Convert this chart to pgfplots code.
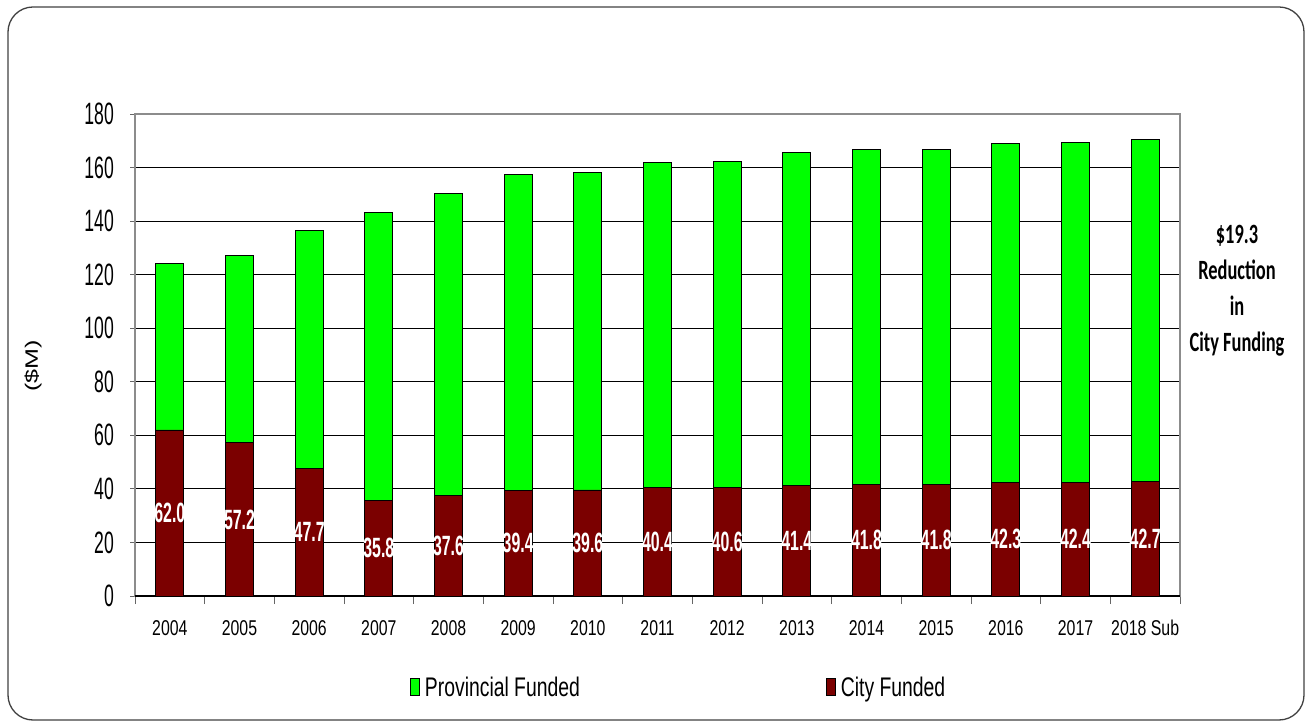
\documentclass[border=0pt]{standalone}
\usepackage{pgfplots}
\pgfplotsset{compat=1.18}
\usepackage{pgfplotstable}
\usepackage{fontspec}
\setmainfont{Liberation Sans}
\newfontfamily\yfont{Liberation Sans}[FakeStretch=0.57]
\newfontfamily\xfont{Liberation Sans}[FakeStretch=0.74]
\newfontfamily\lblfont{Liberation Sans}[FakeStretch=0.57]
\newfontfamily\legfont{Liberation Sans}[FakeStretch=0.72]
\newfontfamily\notefont{Carlito}[FakeStretch=0.66]
\newfontfamily\ylabfont{Liberation Sans}[FakeStretch=1.4]
\definecolor{provgreen}{HTML}{00FF00}
\definecolor{cityred}{HTML}{7B0000}

\pgfplotstableread{
x lbl city prov
0 2004 62.0 62.0
1 2005 57.2 70.1
2 2006 47.7 88.7
3 2007 35.8 107.3
4 2008 37.6 112.6
5 2009 39.4 118.1
6 2010 39.6 118.4
7 2011 40.4 121.4
8 2012 40.6 121.7
9 2013 41.4 124.3
10 2014 41.8 124.9
11 2015 41.8 124.9
12 2016 42.3 126.7
13 2017 42.4 127.1
14 2018 42.7 127.7
}\data

\begin{document}
\begin{tikzpicture}[x=1bp,y=1bp]
\useasboundingbox (0,0) rectangle (1307,723);
\draw[black!75, line width=1.3bp, rounded corners=25bp] (8,3) rectangle (1304,716);
\begin{axis}[
  at={(135bp,127bp)}, anchor=south west,
  scale only axis, width=1045bp, height=482bp,
  xmin=-0.5, xmax=14.5, ymin=0, ymax=180,
  xtick={0,...,14},
  xticklabels={2004,2005,2006,2007,2008,2009,2010,2011,2012,2013,2014,2015,2016,2017,2018 Sub},
  minor xtick={-0.5,0.5,...,14.5},
  major x tick style={draw=none},
  minor x tick style={black!60, line width=0.9bp},
  minor tick length=8bp,
  ytick={0,20,...,180},
  major tick length=5bp,
  ytick style={black!60, line width=0.9bp},
  tick align=outside,
  xtick pos=bottom, ytick pos=left,
  ymajorgrids=true,
  grid style={black, line width=0.9bp},
  axis line style={black!45, line width=1.3bp},
  extra y ticks={0},
  extra y tick labels={},
  extra y tick style={grid=major, grid style={black, line width=1.6bp}, major tick length=0pt},
  /pgf/number format/assume math mode=true,
  yticklabel style={font=\yfont\fontsize{31}{31}\selectfont, anchor=east, inner sep=0pt, xshift=-16bp},
  xticklabel style={font=\xfont\fontsize{21.5}{21.5}\selectfont, anchor=base, inner sep=0pt, yshift=-34bp},
  legend columns=2,
  legend style={draw=none, fill=none, at={(0.263,-0.189)}, anchor=west, inner sep=0pt,
    font=\legfont\fontsize{27}{27}\selectfont,
    nodes={inner sep=0pt},
    /tikz/every odd column/.append style={column sep=5bp},
    /tikz/every even column/.append style={column sep=246bp}},
  legend image code/.code={\draw[#1, draw=black, line width=0.9bp] (0bp,-8.5bp) rectangle (9bp,8.5bp);},
]
\addplot[ybar, bar width=28bp, bar shift=0pt, fill=provgreen, draw=black, line width=0.9bp]
  table[x=x, y expr=\thisrow{city}+\thisrow{prov}] {\data};
\addlegendentry{Provincial Funded}
\addplot[ybar, bar width=28bp, bar shift=0pt, fill=cityred, draw=black, line width=0.9bp]
  table[x=x, y=city] {\data};
\addlegendentry{City Funded}
\addplot[draw=none, mark=none, forget plot, nodes near coords, point meta=explicit symbolic,
  nodes near coords style={font=\lblfont\bfseries\fontsize{28}{28}\selectfont, text=white, anchor=center, inner sep=0pt}]
  table[x=x, y expr=\thisrow{city}/2, meta=city] {\data};
\end{axis}
\node[rotate=90, font=\ylabfont\fontsize{18}{18}\selectfont] at (33,357) {(\$M)};
\node[align=center, font=\notefont\bfseries\fontsize{28}{36}\selectfont] at (1237,432) {\$19.3\\Reduction\\in\\City Funding};
\end{tikzpicture}
\end{document}
